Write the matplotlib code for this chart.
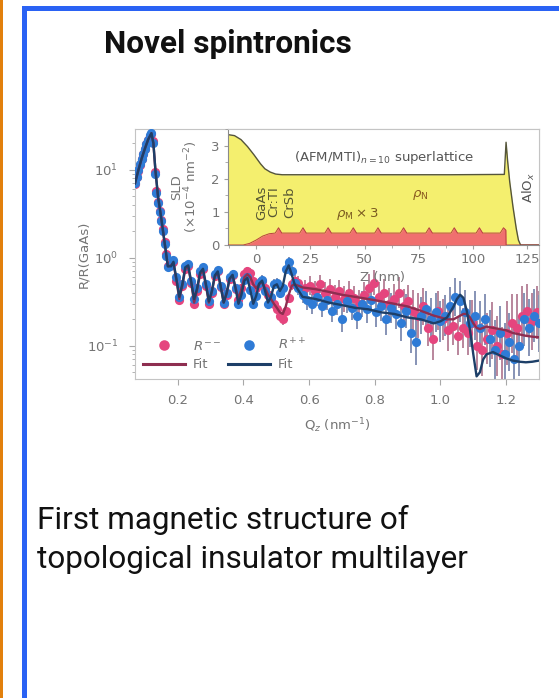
import matplotlib
matplotlib.use('Agg')
import matplotlib.pyplot as plt
from matplotlib.patches import Rectangle
from matplotlib.ticker import MultipleLocator
import numpy as np

# ---------------- data: reflectivity ----------------
Q_low = [0.070, 0.075, 0.080, 0.085, 0.090, 0.095, 0.100, 0.105, 0.110, 0.115,
         0.120, 0.125, 0.130, 0.135, 0.140, 0.145, 0.150, 0.155, 0.160, 0.165, 0.170]
Q_mid = [0.178, 0.187, 0.196, 0.205, 0.214, 0.223, 0.232, 0.241, 0.250, 0.259,
         0.268, 0.277, 0.286, 0.295, 0.304, 0.313, 0.322, 0.331, 0.340, 0.349,
         0.358, 0.367, 0.376, 0.385, 0.394, 0.403, 0.412, 0.421, 0.430, 0.439,
         0.448, 0.457, 0.466, 0.475, 0.484, 0.493, 0.502, 0.511, 0.520, 0.529,
         0.538, 0.547, 0.556, 0.565]
Q_high_pp = [0.580, 0.595, 0.610, 0.625, 0.640, 0.655, 0.670, 0.685, 0.700, 0.715,
             0.730, 0.745, 0.760, 0.775, 0.790, 0.805, 0.820, 0.835, 0.850, 0.865,
             0.880, 0.895, 0.910, 0.925, 0.940, 0.955, 0.970, 0.985, 1.000, 1.015,
             1.030, 1.045, 1.060, 1.075, 1.090, 1.105, 1.120, 1.135, 1.150, 1.165,
             1.180, 1.195, 1.210, 1.225, 1.240, 1.255, 1.270, 1.285, 1.300]
Q_high_mm = [0.5875, 0.6025, 0.6175, 0.6325, 0.6475, 0.6625, 0.6775, 0.6925, 0.7075, 0.7225,
             0.7375, 0.7525, 0.7675, 0.7825, 0.7975, 0.8125, 0.8275, 0.8425, 0.8575, 0.8725,
             0.8875, 0.9025, 0.9175, 0.9325, 0.9475, 0.9625, 0.9775, 0.9925, 1.0075, 1.0225,
             1.0375, 1.0525, 1.0675, 1.0825, 1.0975, 1.1125, 1.1275, 1.1425, 1.1575, 1.1725,
             1.1875, 1.2025, 1.2175, 1.2325, 1.2475, 1.2625, 1.2775, 1.2925, 1.2985]

R_pp_low = [7.0, 8.3, 9.8, 11.5, 13.3, 15.2, 17.3, 19.6, 22.0, 24.5,
            26.0, 20.0, 9.0, 5.5, 4.2, 3.3, 2.6, 2.0, 1.45, 1.05, 0.78]
R_mm_low = [6.9, 8.2, 9.7, 11.4, 13.2, 15.0, 17.1, 19.4, 21.8, 24.2,
            25.5, 21.0, 9.5, 5.8, 4.3, 3.4, 2.7, 2.1, 1.5, 1.1, 0.80]
R_pp_mid = [0.80, 0.95, 0.60, 0.36, 0.50, 0.80, 0.85, 0.55, 0.34, 0.45,
            0.70, 0.78, 0.50, 0.32, 0.42, 0.65, 0.72, 0.48, 0.31, 0.40,
            0.60, 0.66, 0.45, 0.30, 0.38, 0.56, 0.60, 0.43, 0.30, 0.37,
            0.52, 0.56, 0.42, 0.30, 0.36, 0.50, 0.52, 0.40, 0.45, 0.75,
            0.90, 0.70, 0.52, 0.45]
R_mm_mid = [0.85, 0.90, 0.55, 0.33, 0.48, 0.75, 0.80, 0.52, 0.30, 0.42,
            0.66, 0.74, 0.48, 0.30, 0.40, 0.62, 0.70, 0.47, 0.30, 0.38,
            0.58, 0.64, 0.44, 0.33, 0.45, 0.65, 0.70, 0.68, 0.55, 0.45,
            0.50, 0.55, 0.45, 0.38, 0.35, 0.30, 0.26, 0.22, 0.20, 0.25,
            0.35, 0.50, 0.55, 0.52]
R_pp_high = [0.38, 0.33, 0.30, 0.36, 0.28, 0.33, 0.25, 0.30, 0.20, 0.32,
             0.27, 0.22, 0.30, 0.26, 0.33, 0.24, 0.28, 0.20, 0.27, 0.23,
             0.18, 0.25, 0.14, 0.11, 0.22, 0.26, 0.20, 0.24, 0.19, 0.22,
             0.28, 0.36, 0.32, 0.24, 0.18, 0.22, 0.16, 0.20, 0.12, 0.09,
             0.14, 0.08, 0.11, 0.07, 0.10, 0.20, 0.16, 0.22, 0.18]
R_mm_high = [0.45, 0.48, 0.42, 0.50, 0.40, 0.44, 0.36, 0.42, 0.34, 0.40,
             0.35, 0.30, 0.38, 0.45, 0.52, 0.36, 0.40, 0.30, 0.34, 0.40,
             0.28, 0.32, 0.25, 0.22, 0.28, 0.16, 0.12, 0.25, 0.20, 0.15,
             0.17, 0.13, 0.16, 0.14, 0.18, 0.10, 0.09, 0.12, 0.15, 0.10,
             0.08, 0.14, 0.18, 0.16, 0.22, 0.25, 0.19, 0.24, 0.20]

# multiplicative error factors (error bar spans R/f .. R*f)
f_low = [1.03, 1.03, 1.03, 1.03, 1.03, 1.03, 1.03, 1.03, 1.03, 1.03,
         1.03, 1.03, 1.03, 1.03, 1.03, 1.04, 1.04, 1.05, 1.05, 1.06, 1.06]
f_mid = [1.08, 1.08, 1.09, 1.10, 1.09, 1.08, 1.08, 1.10, 1.11, 1.10,
         1.09, 1.09, 1.11, 1.12, 1.11, 1.10, 1.10, 1.12, 1.13, 1.12,
         1.11, 1.11, 1.13, 1.14, 1.13, 1.12, 1.12, 1.14, 1.15, 1.14,
         1.13, 1.13, 1.15, 1.16, 1.15, 1.14, 1.14, 1.16, 1.16, 1.15,
         1.14, 1.15, 1.17, 1.18]
f_high = [1.25, 1.28, 1.30, 1.27, 1.32, 1.30, 1.35, 1.33, 1.40, 1.36,
          1.38, 1.42, 1.40, 1.44, 1.38, 1.46, 1.45, 1.52, 1.48, 1.50,
          1.58, 1.55, 1.70, 1.80, 1.62, 1.60, 1.75, 1.66, 1.70, 1.72,
          1.68, 1.65, 1.70, 1.78, 1.85, 1.90, 2.00, 1.95, 2.10, 2.20,
          2.05, 2.30, 2.15, 2.40, 2.20, 2.00, 2.10, 2.00, 2.10]

Q_fit = [0.070, 0.080, 0.090, 0.100, 0.110, 0.120, 0.126, 0.132, 0.140, 0.150, 0.160, 0.170,
         0.180, 0.187, 0.196, 0.205, 0.214, 0.223, 0.232, 0.241, 0.250, 0.259,
         0.268, 0.277, 0.286, 0.295, 0.304, 0.313, 0.322, 0.331, 0.340, 0.349,
         0.358, 0.367, 0.376, 0.385, 0.394, 0.403, 0.412, 0.421, 0.430, 0.439,
         0.448, 0.457, 0.466, 0.475, 0.484, 0.493, 0.502, 0.511, 0.520, 0.529,
         0.538, 0.547, 0.556,
         0.58, 0.62, 0.66, 0.70, 0.74, 0.78, 0.82, 0.86, 0.90, 0.94, 0.98, 1.00,
         1.02, 1.04, 1.05, 1.06, 1.07, 1.08, 1.09, 1.10, 1.11, 1.12, 1.13, 1.14,
         1.16, 1.18, 1.20, 1.22, 1.24, 1.26, 1.28, 1.30]
fit_pp = [7.0, 9.8, 13.3, 17.3, 22.0, 26.0, 20.0, 10.0, 5.0, 2.8, 1.5, 0.8,
          0.80, 0.90, 0.58, 0.36, 0.50, 0.78, 0.82, 0.54, 0.34, 0.45,
          0.68, 0.75, 0.50, 0.32, 0.42, 0.63, 0.70, 0.47, 0.31, 0.40,
          0.58, 0.64, 0.45, 0.30, 0.38, 0.55, 0.59, 0.43, 0.30, 0.37,
          0.51, 0.55, 0.42, 0.31, 0.36, 0.48, 0.50, 0.42, 0.48, 0.70,
          0.82, 0.65, 0.50,
          0.36, 0.34, 0.31, 0.29, 0.27, 0.26, 0.24, 0.23, 0.21, 0.20, 0.18, 0.19,
          0.21, 0.28, 0.34, 0.38, 0.35, 0.25, 0.15, 0.08, 0.045, 0.05, 0.07, 0.08,
          0.085, 0.078, 0.072, 0.068, 0.066, 0.065, 0.066, 0.068]
fit_mm = [7.0, 9.8, 13.3, 17.3, 22.0, 26.0, 20.0, 10.0, 5.0, 2.8, 1.5, 0.8,
          0.82, 0.88, 0.56, 0.34, 0.48, 0.74, 0.79, 0.52, 0.31, 0.43,
          0.65, 0.72, 0.48, 0.31, 0.41, 0.61, 0.68, 0.47, 0.31, 0.39,
          0.57, 0.63, 0.46, 0.34, 0.44, 0.60, 0.65, 0.60, 0.50, 0.45,
          0.50, 0.53, 0.45, 0.38, 0.34, 0.30, 0.27, 0.24, 0.23, 0.28,
          0.38, 0.48, 0.50,
          0.46, 0.44, 0.41, 0.38, 0.36, 0.34, 0.32, 0.30, 0.28, 0.25, 0.22, 0.21,
          0.20, 0.20, 0.21, 0.22, 0.23, 0.23, 0.21, 0.18, 0.16, 0.155, 0.16, 0.165,
          0.16, 0.155, 0.15, 0.14, 0.135, 0.13, 0.127, 0.125]

x_ticks = [0.2, 0.4, 0.6, 0.8, 1.0, 1.2]
x_ticklabels = ['0.2', '0.4', '0.6', '0.8', '1.0', '1.2']

# ---------------- data: SLD profile (inset) ----------------
z_N = [-13, -10, -7, -4, -1, 2, 4, 6.5, 9, 12, 30, 60, 90, 114.5,
       115.3, 116.0, 117.0, 118.5, 120.0, 121.0, 122.0, 130.5]
rho_N = [3.33, 3.30, 3.18, 2.97, 2.72, 2.45, 2.30, 2.20, 2.14, 2.12, 2.12, 2.12, 2.12, 2.13,
         3.10, 2.55, 1.90, 1.15, 0.50, 0.15, 0.0, 0.0]
z_M = [-13, -6, -3, 0, 3, 6, 8.8, 10.3, 11.8, 20.1, 21.6, 23.1, 31.7, 33.2, 34.7,
       43.3, 44.8, 46.3, 54.7, 56.2, 57.7, 66.5, 68.0, 69.5, 78.3, 79.8, 81.3,
       89.9, 91.4, 92.9, 101.5, 103.0, 104.5, 112.6, 114.1, 115.2, 115.3, 130.5]
rho_M3 = [0, 0, 0.05, 0.15, 0.27, 0.34, 0.36, 0.52, 0.36, 0.36, 0.52, 0.36, 0.36, 0.52, 0.36,
          0.36, 0.52, 0.36, 0.36, 0.52, 0.36, 0.36, 0.52, 0.36, 0.36, 0.52, 0.36,
          0.36, 0.52, 0.36, 0.36, 0.52, 0.36, 0.36, 0.52, 0.45, 0, 0]
z_ticks = [0, 25, 50, 75, 100, 125]
sld_ticks = [0, 1, 2, 3]

# ---------------- figure ----------------
W, H = 559, 698
fig = plt.figure(figsize=(W / 100, H / 100), dpi=100)
fig.patch.set_facecolor('white')


def fx(px):
    return px / W


def fy(py):
    return 1 - py / H


# card borders
fig.add_artist(Rectangle((0, 0), fx(3.3), 1, transform=fig.transFigure,
                         facecolor='#E2800C', edgecolor='none'))
fig.add_artist(Rectangle((fx(21.8), 0), fx(5.2), fy(6.5), transform=fig.transFigure,
                         facecolor='#2A62F4', edgecolor='none'))
fig.add_artist(Rectangle((fx(21.8), fy(11.3)), 1, fy(6.5) - fy(11.3), transform=fig.transFigure,
                         facecolor='#2A62F4', edgecolor='none'))

fig.text(fx(104), fy(53), 'Novel spintronics', fontsize=22.7, fontweight='bold',
         family='Roboto', va='baseline', ha='left', color='#111111')
fig.text(fx(37), fy(529), 'First magnetic structure of', fontsize=22.7,
         family='Roboto', va='baseline', ha='left', color='#111111')
fig.text(fx(37), fy(568), 'topological insulator multilayer', fontsize=22.7,
         family='Roboto', va='baseline', ha='left', color='#111111')

GRAY_T = '#747474'
GRAY_S = '#c4c4c4'

# ---------------- main axes ----------------
ax = fig.add_axes([fx(135), fy(379), (539 - 135) / W, (379 - 129) / H])
ax.set_yscale('log')
ax.set_xlim(0.07, 1.30)
ax.set_ylim(0.042, 29)

Qpp = np.array(Q_low + Q_mid + Q_high_pp)
Qmm = np.array(Q_low + Q_mid + Q_high_mm)
Rpp = np.array(R_pp_low + R_pp_mid + R_pp_high)
Rmm = np.array(R_mm_low + R_mm_mid + R_mm_high)
fe = np.array(f_low + f_mid + f_high)

c_mm = '#E5457E'
c_pp = '#2F7BD6'
ax.errorbar(Qmm, Rmm, yerr=[Rmm - Rmm / fe, Rmm * fe - Rmm], fmt='none',
            ecolor='#B9869C', elinewidth=1.4, zorder=1)
ax.errorbar(Qpp, Rpp, yerr=[Rpp - Rpp / fe, Rpp * fe - Rpp], fmt='none',
            ecolor='#8693B5', elinewidth=1.4, zorder=1)
h_mm, = ax.plot(Qmm, Rmm, 'o', ms=6.6, color=c_mm, mec='none', zorder=2)
h_pp, = ax.plot(Qpp, Rpp, 'o', ms=6.6, color=c_pp, mec='none', zorder=3)
l_mm, = ax.plot(Q_fit, fit_mm, '-', color='#8E2E50', lw=1.7, zorder=4)
l_pp, = ax.plot(Q_fit, fit_pp, '-', color='#1D3F68', lw=1.7, zorder=5)

ax.set_xticks(x_ticks)
ax.set_xticklabels(x_ticklabels)
ax.tick_params(axis='both', which='major', direction='out', length=4, width=0.8,
               color='#a8a8a8', labelcolor=GRAY_T, labelsize=9.5)
ax.tick_params(axis='x', pad=7)
ax.tick_params(axis='y', pad=8)
ax.tick_params(axis='y', which='minor', direction='out', length=2.5, width=0.6, color='#a8a8a8')
for s in ax.spines.values():
    s.set_color(GRAY_S)
    s.set_linewidth(0.8)

ax.set_xlabel('Q$_z$ (nm$^{-1}$)', fontsize=9.5, color=GRAY_T)
ax.xaxis.set_label_coords(0.5, -0.148)
ax.set_ylabel('R/R(GaAs)', fontsize=9.5, color=GRAY_T)
ax.yaxis.set_label_coords(-0.112, 0.5)

leg = ax.legend([h_mm, l_mm, h_pp, l_pp], ['$R^{--}$', 'Fit', '$R^{++}$', 'Fit'],
                ncol=2, loc='lower left', bbox_to_anchor=(0.02, 0.03), frameon=False,
                fontsize=9.5, handlelength=3.2, handletextpad=0.55, columnspacing=0.55,
                labelspacing=0.45, borderaxespad=0, borderpad=0, markerscale=1.15)
for t in leg.get_texts():
    t.set_color(GRAY_T)
for lh in leg.get_lines():
    lh.set_linewidth(2.2)

# ---------------- inset axes ----------------
ins = fig.add_axes([fx(228), fy(245), (539 - 228) / W, (245 - 129) / H])
ins.set_facecolor('white')
ins.set_xlim(-13, 130.5)
ins.set_ylim(0, 3.5)
ins.fill_between(z_N, rho_N, 0, color='#F4EF6E', lw=0, zorder=1)
ins.plot(z_N, rho_N, color='#55553a', lw=1.0, zorder=2)
ins.fill_between(z_M, rho_M3, 0, color='#F06F6F', lw=0, zorder=3)
ins.plot(z_M, rho_M3, color='#B84040', lw=0.7, zorder=4)

ins.set_xticks(z_ticks)
ins.set_yticks(sld_ticks)
ins.xaxis.set_minor_locator(MultipleLocator(12.5))
ins.yaxis.set_minor_locator(MultipleLocator(0.5))
ins.tick_params(axis='both', which='major', direction='out', length=3, width=0.8,
                color='#a0a0a0', labelcolor=GRAY_T, labelsize=9.5, pad=3)
ins.tick_params(axis='both', which='minor', direction='out', length=2, width=0.6, color='#a0a0a0')
for k, s in ins.spines.items():
    s.set_linewidth(0.8)
    s.set_color(GRAY_S if k in ('top', 'right') else '#8a8a8a')

ins.set_xlabel('Z (nm)', fontsize=9.5, color=GRAY_T)
ins.xaxis.set_label_coords(0.498, -0.22)
ins.text(-0.164, 0.5, 'SLD', transform=ins.transAxes, rotation=90, ha='center', va='center',
         fontsize=9.5, color=GRAY_T)
ins.text(-0.118, 0.5, '(×10$^{-4}$ nm$^{-2}$)', transform=ins.transAxes, rotation=90,
         ha='center', va='center', fontsize=9.5, color=GRAY_T)

ins.text(58.8, 2.64, '(AFM/MTI)$_{n=10}$ superlattice', ha='center', va='center',
         fontsize=9.5, color='#555555', zorder=6)
for lab, zz in [('GaAs', 2.8), ('Cr:TI', 8.3), ('CrSb', 15.3)]:
    ins.text(zz, 1.78, lab, rotation=90, ha='center', va='top', fontsize=9.5,
             color='#555533', zorder=6)
ins.text(75.9, 1.52, r'$\rho_{\rm N}$', ha='center', va='center', fontsize=9.5,
         color='#8a5a20', zorder=6)
ins.text(46.8, 0.94, r'$\rho_{\rm M}\times 3$', ha='center', va='center', fontsize=9.5,
         color='#7a5a20', zorder=6)
ins.text(125.9, 1.73, 'AlO$_x$', rotation=90, ha='center', va='center', fontsize=9.5,
         color='#555555', zorder=6)

fig.savefig('out.png', dpi=100)
